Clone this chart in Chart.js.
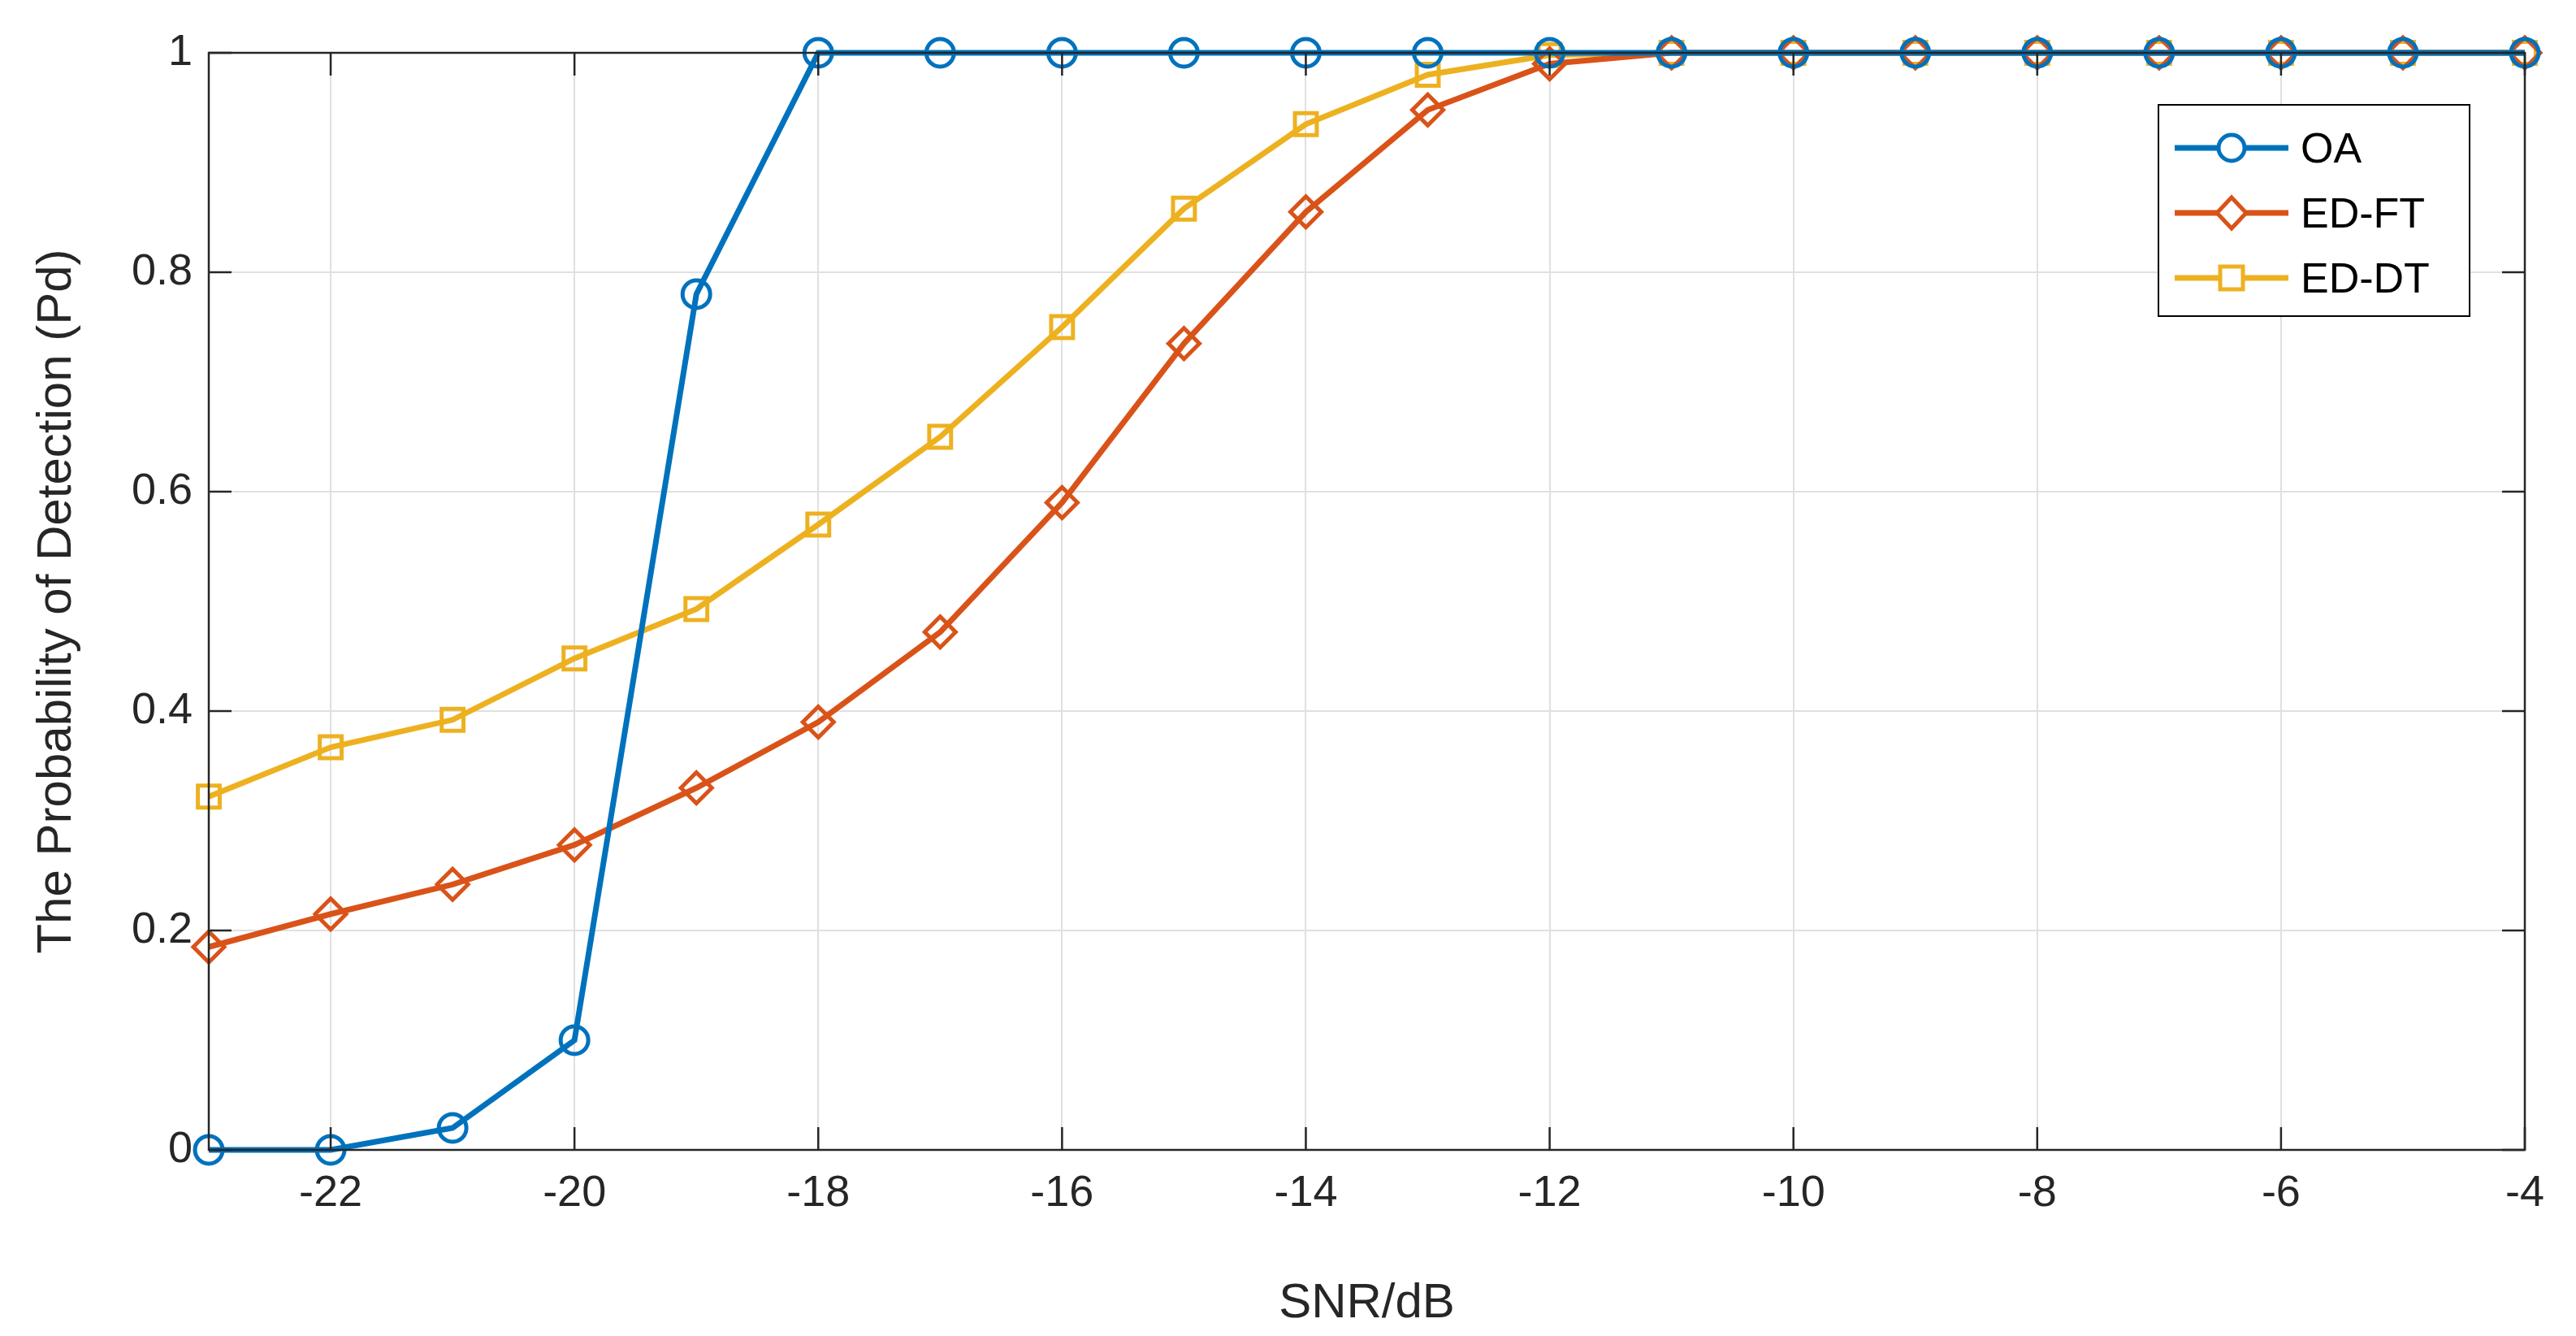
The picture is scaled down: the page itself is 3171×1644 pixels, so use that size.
<!DOCTYPE html>
<html><head><meta charset="utf-8">
<script src="https://cdn.jsdelivr.net/npm/chart.js@4"></script>
<style>
body{margin:0;background:#fff;}
#wrap{position:relative;width:3171px;height:1644px;}
#legend{position:absolute;left:2656px;top:128px;width:385px;height:262px;border:2px solid #000;background:#fff;font-family:"Liberation Sans",Arial,sans-serif;font-size:52px;color:#000;box-sizing:border-box;padding-top:12px;}
.item{display:flex;align-items:center;height:80px;}
.item canvas{margin-left:14px;margin-right:10px;}
</style></head><body>
<div id="wrap"><canvas id="c" width="3171" height="1644"></canvas>
<div id="legend"></div></div>
<script>
const snr=[-23,-22,-21,-20,-19,-18,-17,-16,-15,-14,-13,-12,-11,-10,-9,-8,-7,-6,-5,-4];
const oa=[0,0,0.02,0.1,0.78,1,1,1,1,1,1,1,1,1,1,1,1,1,1,1];
const edft=[0.185,0.215,0.242,0.278,0.33,0.39,0.472,0.59,0.735,0.855,0.948,0.99,1,1,1,1,1,1,1,1];
const eddt=[0.322,0.367,0.392,0.448,0.493,0.57,0.65,0.75,0.858,0.935,0.98,0.998,1,1,1,1,1,1,1,1];
const xTicks=[-22,-20,-18,-16,-14,-12,-10,-8,-6,-4];
const yTicks=[0,0.2,0.4,0.6,0.8,1];
const names=['OA','ED-FT','ED-DT'];
const colors=['#0072BD','#D95319','#EDB120'];
const styles=['circle','rectRot','rect'];
const vals=[oa,edft,eddt];
const font="'Liberation Sans', Arial, sans-serif";
const ds=vals.map((v,i)=>({label:names[i],data:snr.map((x,j)=>({x:x,y:v[j]})),borderColor:colors[i],backgroundColor:'#fff',pointStyle:styles[i],pointRadius:i==2?19:(i==1?19:17),pointBorderWidth:5,borderWidth:7,pointBackgroundColor:'rgba(255,255,255,0)',tension:0,clip:false}));
const box={id:'box',afterDraw(c){const a=c.chartArea,x=c.ctx;x.save();x.strokeStyle='#262626';x.lineWidth=2.5;x.strokeRect(a.left,a.top,a.right-a.left,a.bottom-a.top);
x.beginPath();const sx=c.scales.x,sy=c.scales.y;
xTicks.forEach(t=>{const p=sx.getPixelForValue(t);x.moveTo(p,a.bottom);x.lineTo(p,a.bottom-28);x.moveTo(p,a.top);x.lineTo(p,a.top+28);});
yTicks.forEach(t=>{const p=sy.getPixelForValue(t);x.moveTo(a.left,p);x.lineTo(a.left+28,p);x.moveTo(a.right,p);x.lineTo(a.right-28,p);});
x.stroke();x.restore();}};
new Chart(document.getElementById('c'),{type:'line',data:{datasets:ds},plugins:[box],
options:{responsive:false,animation:false,layout:{padding:{top:65,right:63,left:30}},
plugins:{legend:{display:false},tooltip:{enabled:false}},
scales:{x:{type:'linear',min:-23,max:-4,afterBuildTicks:s=>{s.ticks=xTicks.map(v=>({value:v}));},
afterFit:s=>{s.height=229;},grid:{color:'#e0e0e0',lineWidth:2,drawTicks:false},border:{display:false},
ticks:{padding:22,font:{family:font,size:54},color:'#262626'},
title:{display:true,text:'SNR/dB',font:{family:font,size:60},color:'#262626',padding:{top:6}}},
y:{min:0,max:1,afterBuildTicks:s=>{s.ticks=yTicks.map(v=>({value:v}));},
afterFit:s=>{s.width=227;},grid:{color:'#e0e0e0',lineWidth:2,drawTicks:false},border:{display:false},
ticks:{padding:20,font:{family:font,size:54},color:'#262626',callback:v=>String(v)},
title:{display:true,text:'The Probability of Detection (Pd)',font:{family:font,size:60},color:'#262626',padding:{bottom:8}}}}}});
const lg=document.getElementById('legend');
names.forEach((n,i)=>{const d=document.createElement('div');d.className='item';const cv=document.createElement('canvas');cv.width=150;cv.height=50;const x=cv.getContext('2d');x.strokeStyle=colors[i];x.lineWidth=7;x.beginPath();x.moveTo(5,25);x.lineTo(145,25);x.stroke();x.fillStyle='#fff';x.lineWidth=5;x.beginPath();
if(i==0)x.arc(75,25,16,0,7);else if(i==1){x.moveTo(75,6);x.lineTo(93,25);x.lineTo(75,44);x.lineTo(57,25);x.closePath();}else x.rect(61,11,28,28);
x.fill();x.stroke();d.appendChild(cv);const s=document.createElement('span');s.textContent=n;d.appendChild(s);lg.appendChild(d);});
</script></body></html>
